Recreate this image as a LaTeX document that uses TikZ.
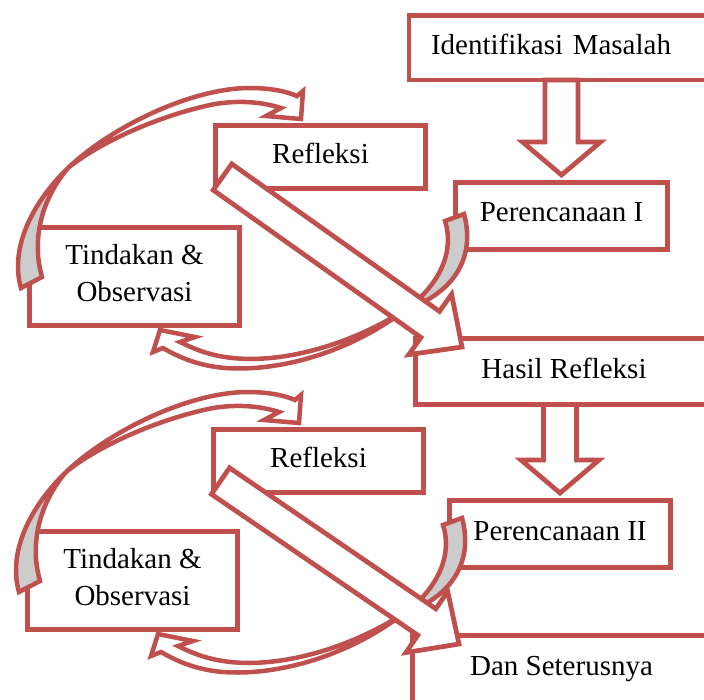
\documentclass[tikz,border=0pt]{standalone}
\usepackage{fontspec}
\setmainfont{Liberation Serif}
\usepackage{tikz}
\usetikzlibrary{calc,positioning}
\definecolor{accent}{HTML}{C0504D}
\definecolor{shade}{HTML}{CCCCCC}

\begin{document}
\begin{tikzpicture}[x=1pt, y=-1pt,
  bx/.style={draw=accent, line width=4.75pt, fill=white, inner sep=0pt, outer sep=0pt, text depth=7pt, font=\fontsize{29}{37}\selectfont, align=center},
  blk/.style={draw=accent, line width=4.75pt, fill=white},
  rib/.style={draw=accent, line width=4.5pt, fill=white},
  bck/.style={draw=accent, line width=4.5pt, fill=shade}
]
\useasboundingbox (0,0) rectangle (704,699);
\clip (0,0) rectangle (704,699);
\fill[white] (0,0) rectangle (704,699);

% right column
\node[bx, anchor=west, minimum height=64.5pt, text width=300pt, inner xsep=22pt, align=left] (idm) at (409,47.75) {Identifikasi Masalah};
\node[bx, minimum width=212pt, minimum height=67pt] (pr1) at (561.5,216) {Perencanaan I};
\node[bx, minimum width=297pt, minimum height=66pt] (hr) at (564,371.5) {Hasil Refleksi};
\node[bx, minimum width=221pt, minimum height=67pt] (pr2) at (560,534) {Perencanaan II};
\node[bx, minimum width=298pt, minimum height=67pt] (dst) at (561.5,669) {Dan Seterusnya};

% down arrows
\foreach \s/\t in {idm/pr1, hr/pr2}{
  \coordinate (a0) at (\t.north |- \s.south);
  \coordinate (a1) at ($(\t.north)+(0,-7.5)$);
  \coordinate (a2) at ($(a1)!33pt!(a0)$);
  \draw[blk] ($(a0)!16.5pt!90:(a1)$) -- ($(a2)!16.5pt!90:(a1)$) -- ($(a2)!39pt!90:(a1)$) -- (a1)
    -- ($(a2)!39pt!-90:(a1)$) -- ($(a2)!16.5pt!-90:(a1)$) -- ($(a0)!16.5pt!-90:(a1)$) -- cycle;
}

% cycles
\foreach \g/\dx/\dy/\tgt in {1/0/0/hr, 2/-2/304/dst}{
  \begin{scope}[shift={(\dx,\dy)}]
    \node[bx, minimum width=210pt, minimum height=63pt] (ref\g) at (320.5,157) {Refleksi};
    \node[bx, minimum width=210pt, minimum height=98pt] (tin\g) at (134.5,276.5) {Tindakan \&\\Observasi};
    % tindakan -> refleksi
    \draw[bck] (21,288) .. controls (10,250) and (30,205) .. (68,168)
      .. controls (45,195) and (30,235) .. (42,277) -- cycle;
    \draw[rib] (68,168) .. controls (110,128) and (190,88) .. (250,88)
      .. controls (272,88) and (288,92) .. (297,96) -- (303,91) -- (301,119) -- (266,116) -- (281,108)
      .. controls (262,102) and (240,100) .. (215,104) .. controls (160,115) and (100,142) .. (68,168);
    % perencanaan -> tindakan
    \draw[bck] (445,221) -- (464,214) .. controls (474,250) and (462,290) .. (405,310)
      .. controls (443,283) and (454,248) .. (445,221) -- cycle;
    \draw[rib] (405,310) .. controls (345,348) and (275,365) .. (225,357)
      .. controls (205,354) and (190,347) .. (180,342) -- (195,337) -- (160,330) -- (153,352) -- (163,348)
      .. controls (180,358) and (200,366) .. (225,368) .. controls (280,372) and (350,352) .. (405,310);
  \end{scope}
  % refleksi -> hasil
  \coordinate (d0) at ($(ref\g.south west)+(7,-11.5)$);
  \coordinate (d1) at ($(\tgt.north west)+(46.5,8.5)$);
  \coordinate (d2) at ($(d1)!39pt!(d0)$);
  \draw[blk] ($(d0)!16pt!90:(d1)$) -- ($(d2)!16pt!90:(d1)$) -- ($(d2)!37pt!90:(d1)$) -- (d1)
    -- ($(d2)!37pt!-90:(d1)$) -- ($(d2)!16pt!-90:(d1)$) -- ($(d0)!16pt!-90:(d1)$) -- cycle;
}
\end{tikzpicture}
\end{document}
